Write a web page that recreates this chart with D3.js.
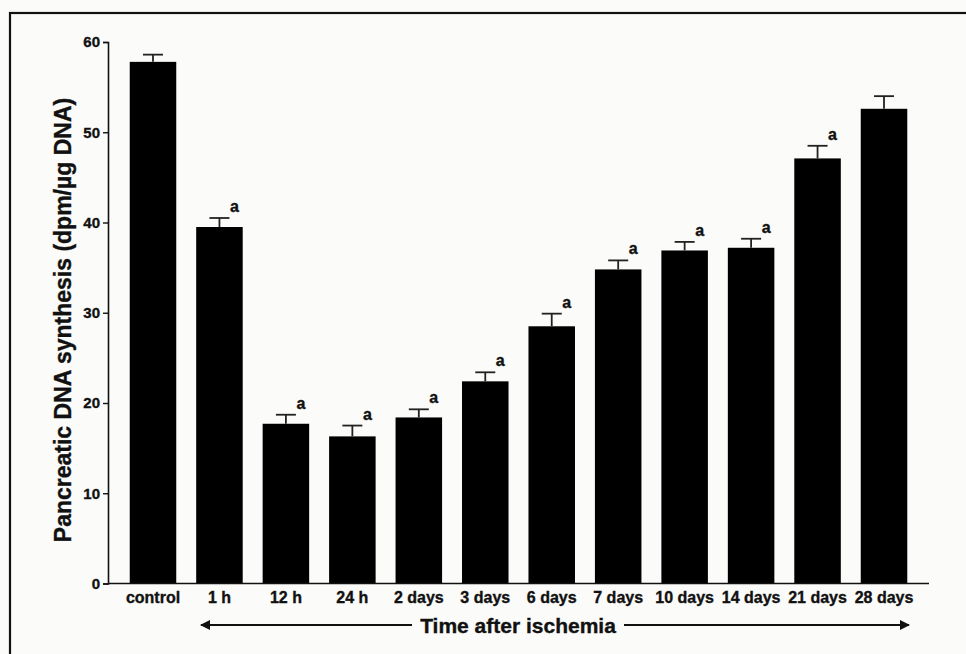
<!DOCTYPE html>
<html>
<head>
<meta charset="utf-8">
<script src="https://cdn.jsdelivr.net/npm/d3@7"></script>
<style>
  html, body { margin: 0; padding: 0; background: #fbfbf9; }
  svg { display: block; }
  text { font-family: "Liberation Sans", Arial, sans-serif; font-weight: bold; fill: #111;
         stroke: #111; stroke-width: 0.35px; }
</style>
</head>
<body>
<svg id="chart" width="966" height="654"></svg>
<script>
// Time points after ischemia
const categories = ["control", "1 h", "12 h", "24 h", "2 days", "3 days", "6 days",
                    "7 days", "10 days", "14 days", "21 days", "28 days"];
// Mean pancreatic DNA synthesis (dpm/µg DNA)
const means = [57.8, 39.5, 17.7, 16.3, 18.4, 22.4, 28.5, 34.8, 36.9, 37.2, 47.1, 52.6];
// Standard error (upper whisker only)
const errors = [0.8, 1.0, 1.0, 1.2, 0.9, 1.0, 1.4, 1.0, 0.95, 1.0, 1.4, 1.4];
// Significance marks
const marks = ["", "a", "a", "a", "a", "a", "a", "a", "a", "a", "a", ""];
const yTicks = [0, 10, 20, 30, 40, 50, 60];

const svg = d3.select("#chart");

// Figure frame (only top and left edges fall inside the view)
svg.append("rect")
  .attr("x", 10).attr("y", 13)
  .attr("width", 1000).attr("height", 700)
  .attr("fill", "none").attr("stroke", "#111").attr("stroke-width", 2.2);

const x = d3.scaleBand()
  .domain(categories)
  .range([108, 929])
  .paddingInner(0.3)
  .paddingOuter(0.327);

const y = d3.scaleLinear().domain([0, 60]).range([583.5, 42]);

const data = categories.map((c, i) => ({ c, m: means[i], e: errors[i], a: marks[i] }));

// Bars
svg.append("g").selectAll("rect")
  .data(data).join("rect")
  .attr("x", d => x(d.c))
  .attr("y", d => y(d.m))
  .attr("width", x.bandwidth())
  .attr("height", d => y(0) - y(d.m))
  .attr("fill", "#000");

// Error bars (upper whisker + cap)
const eb = svg.append("g").attr("stroke", "#222").attr("stroke-width", 1.8);
eb.selectAll("line.v").data(data).join("line")
  .attr("class", "v")
  .attr("x1", d => x(d.c) + x.bandwidth() / 2)
  .attr("x2", d => x(d.c) + x.bandwidth() / 2)
  .attr("y1", d => y(d.m))
  .attr("y2", d => y(d.m + d.e));
eb.selectAll("line.cap").data(data).join("line")
  .attr("class", "cap")
  .attr("x1", d => x(d.c) + x.bandwidth() / 2 - 10)
  .attr("x2", d => x(d.c) + x.bandwidth() / 2 + 10)
  .attr("y1", d => y(d.m + d.e))
  .attr("y2", d => y(d.m + d.e));

// Significance letters
svg.append("g").selectAll("text")
  .data(data.filter(d => d.a)).join("text")
  .attr("x", d => x(d.c) + x.bandwidth() / 2 + 15)
  .attr("y", d => y(d.m + d.e) - 6)
  .attr("text-anchor", "middle")
  .style("font-size", "16px")
  .text(d => d.a);

// Y axis
const yAxis = svg.append("g")
  .attr("transform", "translate(108,0)")
  .call(d3.axisLeft(y).tickValues(yTicks).tickSize(5).tickPadding(3).tickFormat(d3.format("d")));
yAxis.select(".domain").attr("stroke", "#111").attr("stroke-width", 1.6);
yAxis.selectAll(".tick line").attr("stroke", "#111").attr("stroke-width", 1.4);
yAxis.selectAll(".tick text").style("font-size", "15px");

// X axis
const xAxis = svg.append("g")
  .attr("transform", `translate(0,${y(0)})`)
  .call(d3.axisBottom(x).tickSize(0).tickPadding(8).tickSizeOuter(0));
xAxis.select(".domain").attr("stroke", "#111").attr("stroke-width", 1.6)
  .attr("d", `M108,0H929`);
xAxis.selectAll(".tick text").style("font-size", "16px");

// Y axis title
svg.append("text")
  .attr("transform", "translate(71,320) rotate(-90)")
  .attr("text-anchor", "middle")
  .style("font-size", "23px")
  .text("Pancreatic DNA synthesis (dpm/µg DNA)");

// Time arrow with caption
const arrowY = 625;
const defs = svg.append("defs");
defs.append("marker")
  .attr("id", "head")
  .attr("viewBox", "0 0 10 10")
  .attr("refX", 9).attr("refY", 5)
  .attr("markerWidth", 14).attr("markerHeight", 10)
  .attr("markerUnits", "userSpaceOnUse")
  .attr("orient", "auto-start-reverse")
  .append("path").attr("d", "M0,0L10,5L0,10Z").attr("fill", "#111");

svg.append("line")
  .attr("x1", 201).attr("x2", 412)
  .attr("y1", arrowY).attr("y2", arrowY)
  .attr("stroke", "#111").attr("stroke-width", 2)
  .attr("marker-start", "url(#head)");
svg.append("line")
  .attr("x1", 624).attr("x2", 909)
  .attr("y1", arrowY).attr("y2", arrowY)
  .attr("stroke", "#111").attr("stroke-width", 2)
  .attr("marker-end", "url(#head)");
svg.append("text")
  .attr("x", 518).attr("y", arrowY + 7.5)
  .attr("text-anchor", "middle")
  .style("font-size", "21px")
  .text("Time after ischemia");
</script>
</body>
</html>
